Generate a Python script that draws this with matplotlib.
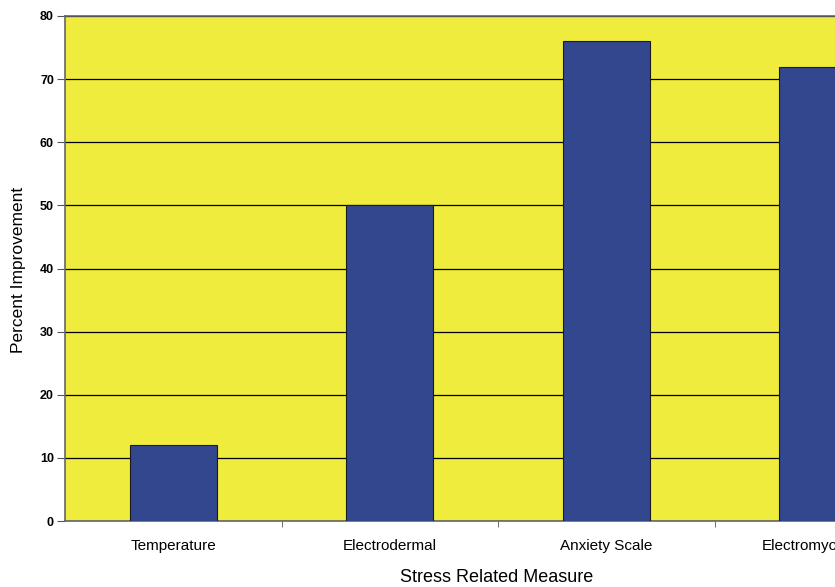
import numpy as np
import matplotlib.pyplot as plt

plt.rcParams['font.family'] = ['Liberation Sans', 'DejaVu Sans']

# data
categories = ['Temperature', 'Electrodermal', 'Anxiety Scale', 'Electromyography']
improvement = [12, 50, 76, 72]
yticks = [0, 10, 20, 30, 40, 50, 60, 70, 80]

fig = plt.figure(figsize=(8.35, 5.87), dpi=100)
# axes runs past the right edge, as in the original
ax = fig.add_axes([65 / 835, 66 / 587, 866 / 835, 505 / 587])
ax.set_facecolor('#F0EC3E')

x = np.arange(len(categories))
ax.bar(x, improvement, width=0.4, color='#33478E', edgecolor='#1a1a1a',
       linewidth=0.8, zorder=3)

ax.set_ylim(0, 80)
ax.set_xlim(-0.5, len(categories) - 0.5)
ax.set_yticks(yticks)
ax.yaxis.grid(True, color='black', linewidth=0.9, zorder=1)

ax.set_xticks(x)
ax.set_xticklabels(categories, fontsize=11)
ax.tick_params(axis='x', length=0, pad=13)
ax.set_xticks(np.arange(0.5, len(categories) - 0.5, 1), minor=True)
ax.tick_params(axis='x', which='minor', length=4, color='#555555')
ax.tick_params(axis='y', labelsize=9, length=6, color='#555555', pad=2)
for lab in ax.get_yticklabels():
    lab.set_fontweight('bold')

for side in ['left', 'bottom', 'top']:
    ax.spines[side].set_color('#666666')
    ax.spines[side].set_linewidth(1.2)
ax.spines['right'].set_visible(False)

fig.text(497 / 835, 1 - 578 / 587, 'Stress Related Measure', ha='center',
         va='center', fontsize=13)
fig.text(19 / 835, 1 - 270 / 587, 'Percent Improvement', ha='center',
         va='center', rotation=90, fontsize=12.5)

fig.savefig('out.png', dpi=100)
